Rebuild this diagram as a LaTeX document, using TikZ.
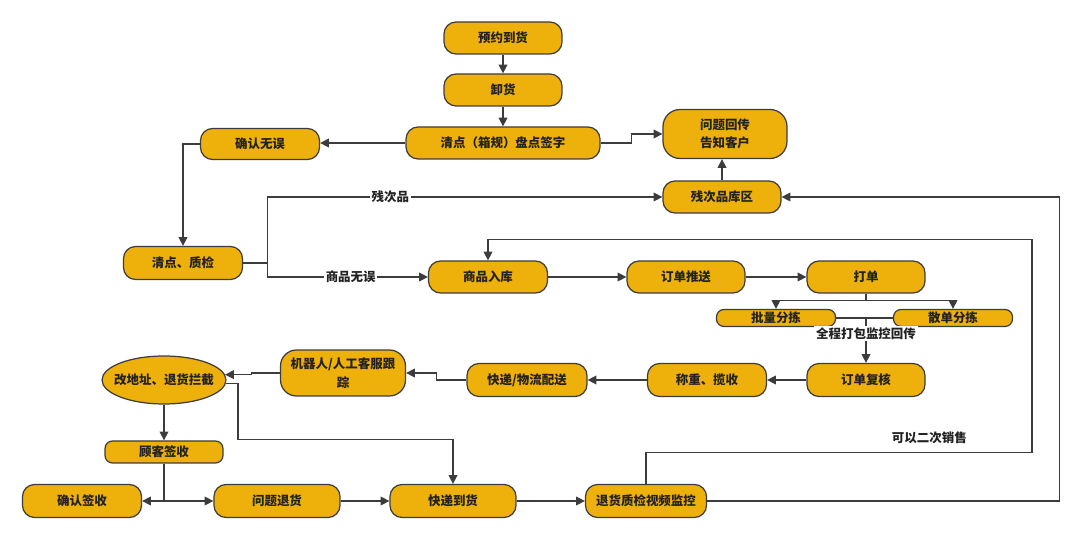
\documentclass[tikz,border=0pt]{standalone}
\usepackage{fontspec}
\newfontfamily\cjk{Noto Sans CJK SC}
\usetikzlibrary{arrows.meta,positioning,calc,shapes.geometric}
\definecolor{boxgold}{RGB}{238,176,10}
\definecolor{edgegray}{RGB}{60,60,60}
\definecolor{textdark}{RGB}{34,34,34}

\begin{document}
\begin{tikzpicture}[x=0.02cm,y=-0.02cm,
	stepbox/.style={draw=edgegray, fill=boxgold, line width=0.7pt, rounded corners=0.24cm,
		minimum width=2.36cm, minimum height=0.64cm, inner sep=1pt, align=center,
		text=textdark, font=\cjk\bfseries\fontsize{7.1}{10.5}\selectfont},
	thinbox/.style={stepbox, rounded corners=0.15cm, minimum height=0.34cm},
	roundbox/.style={stepbox, ellipse, rounded corners=0pt},
	flow/.style={draw=edgegray, line width=0.65pt, -{Triangle[length=5pt,width=5pt]}},
	plain/.style={draw=edgegray, line width=0.65pt},
	lbl/.style={fill=white, inner sep=1pt, text=textdark, font=\cjk\bfseries\fontsize{7.1}{9}\selectfont}]
	\useasboundingbox (0,0) rectangle (1080,540);
	
	% Inbound
	\node[stepbox] (yuyue) at (503,38) {预约到货};
	\node[stepbox] (xiehuo) at (503,90) {卸货};
	\node[stepbox, minimum width=3.88cm] (qingdian) at (503,143) {清点（箱规）盘点签字};
	\node[stepbox, minimum width=2.38cm, minimum height=0.62cm] (queren) at (260,144) {确认无误};
	\node[stepbox, minimum width=2.48cm, minimum height=0.98cm, rounded corners=0.34cm] (wenti) at (725,134) {问题回传\\告知客户};
	\node[stepbox] (canci) at (722,197) {残次品库区};
	\node[stepbox, minimum width=2.38cm, minimum height=0.66cm] (zhijian) at (183,263) {清点、质检};
	
	% Storage and orders
	\node[stepbox, minimum width=2.38cm] (ruku) at (488,277) {商品入库};
	\node[stepbox] (tuisong) at (686,277) {订单推送};
	\node[stepbox] (dadan) at (866,277) {打单};
	\node[thinbox, minimum width=2.38cm] (piliang) at (776,318) {批量分拣};
	\node[thinbox, minimum width=2.38cm] (sandan) at (953,318) {散单分拣};
	\node[stepbox, minimum height=0.66cm] (fuhe) at (866,380) {订单复核};
	\node[stepbox, minimum width=2.38cm, minimum height=0.66cm] (chengzhong) at (707,380) {称重、揽收};
	\node[stepbox, minimum width=2.4cm, minimum height=0.66cm] (peisong) at (527,380) {快递/物流配送};
	\node[stepbox, minimum width=2.5cm, minimum height=0.92cm, rounded corners=0.32cm] (jiqiren) at (343,373) {机器人/人工客服跟\\踪};
	\node[roundbox, minimum width=2.48cm, minimum height=0.96cm, inner xsep=-6pt, inner ysep=0pt] (gaidizhi) at (164,380) {改地址、退货拦截};
	
	% Delivery and returns
	\node[thinbox, minimum height=0.44cm] (qianshou) at (164,452) {顾客签收};
	\node[stepbox, minimum width=2.38cm, minimum height=0.66cm] (qianshouok) at (82,501) {确认签收};
	\node[stepbox, minimum width=2.52cm, minimum height=0.66cm] (tuihuo) at (277,501) {问题退货};
	\node[stepbox, minimum width=2.52cm, minimum height=0.66cm] (daohuo) at (453,501) {快递到货};
	\node[stepbox, minimum width=2.42cm, minimum height=0.66cm] (jiankong) at (646,501) {退货质检视频监控};
	
	% Inbound arrows
	\draw[flow] (yuyue) -- (xiehuo);
	\draw[flow] (xiehuo) -- (qingdian);
	\draw[flow] (qingdian.west) -- (qingdian.west -| queren.east);
	\draw[flow] (qingdian.east) -- ++(31,0) |- (wenti.west);
	\draw[flow] (canci.north) -- (canci.north |- wenti.south);
	\draw[flow] (queren.west) -- ++(-18,0) -| (zhijian.north);
	\draw[plain] (zhijian.east) -- ++(24,0) coordinate (fork);
	\draw[flow] (fork) |- (canci.west) node[lbl, pos=0.656] {残次品};
	\draw[flow] (fork) |- (ruku.west) node[lbl, pos=0.76] {商品无误};
	
	% Order arrows
	\draw[flow] (ruku) -- (tuisong);
	\draw[flow] (tuisong) -- (dadan);
	\draw[flow] (dadan.south) -- ++(0,7) -| (piliang.north);
	\draw[flow] (dadan.south) -- ++(0,7) -| (sandan.north);
	\draw[plain] (piliang.east) -- (sandan.west);
	\draw[flow] (fuhe.north |- piliang.east) -- (fuhe.north) node[lbl, pos=0.35] {全程打包监控回传};
	\draw[flow] (fuhe) -- (chengzhong);
	\draw[flow] (chengzhong) -- (peisong);
	\draw[flow] (peisong.west) -- ++(-30,0) |- (jiqiren.east);
	\draw[flow] (jiqiren.west) -- ++(-28,0) |- (gaidizhi.5);
	
	% Delivery arrows
	\draw[flow] (gaidizhi.-3) -- ++(12,0) -- ++(0,56) -| (daohuo.north);
	\draw[flow] (gaidizhi) -- (qianshou);
	\draw[flow] (qianshou.south) |- (qianshouok.east);
	\draw[flow] (qianshou.south) |- (tuihuo.west);
	\draw[flow] (tuihuo) -- (daohuo);
	\draw[flow] (daohuo) -- (jiankong);
	\draw[flow] (jiankong.east) -- ++(352,0) |- (canci.east);
	\draw[flow] (jiankong.north) -- ++(0,-31) -| ++(386,-213)
		node[lbl, fill=none, pos=0.367, yshift=0.3cm] {可以二次销售} -| (ruku.north);
\end{tikzpicture}
\end{document}
